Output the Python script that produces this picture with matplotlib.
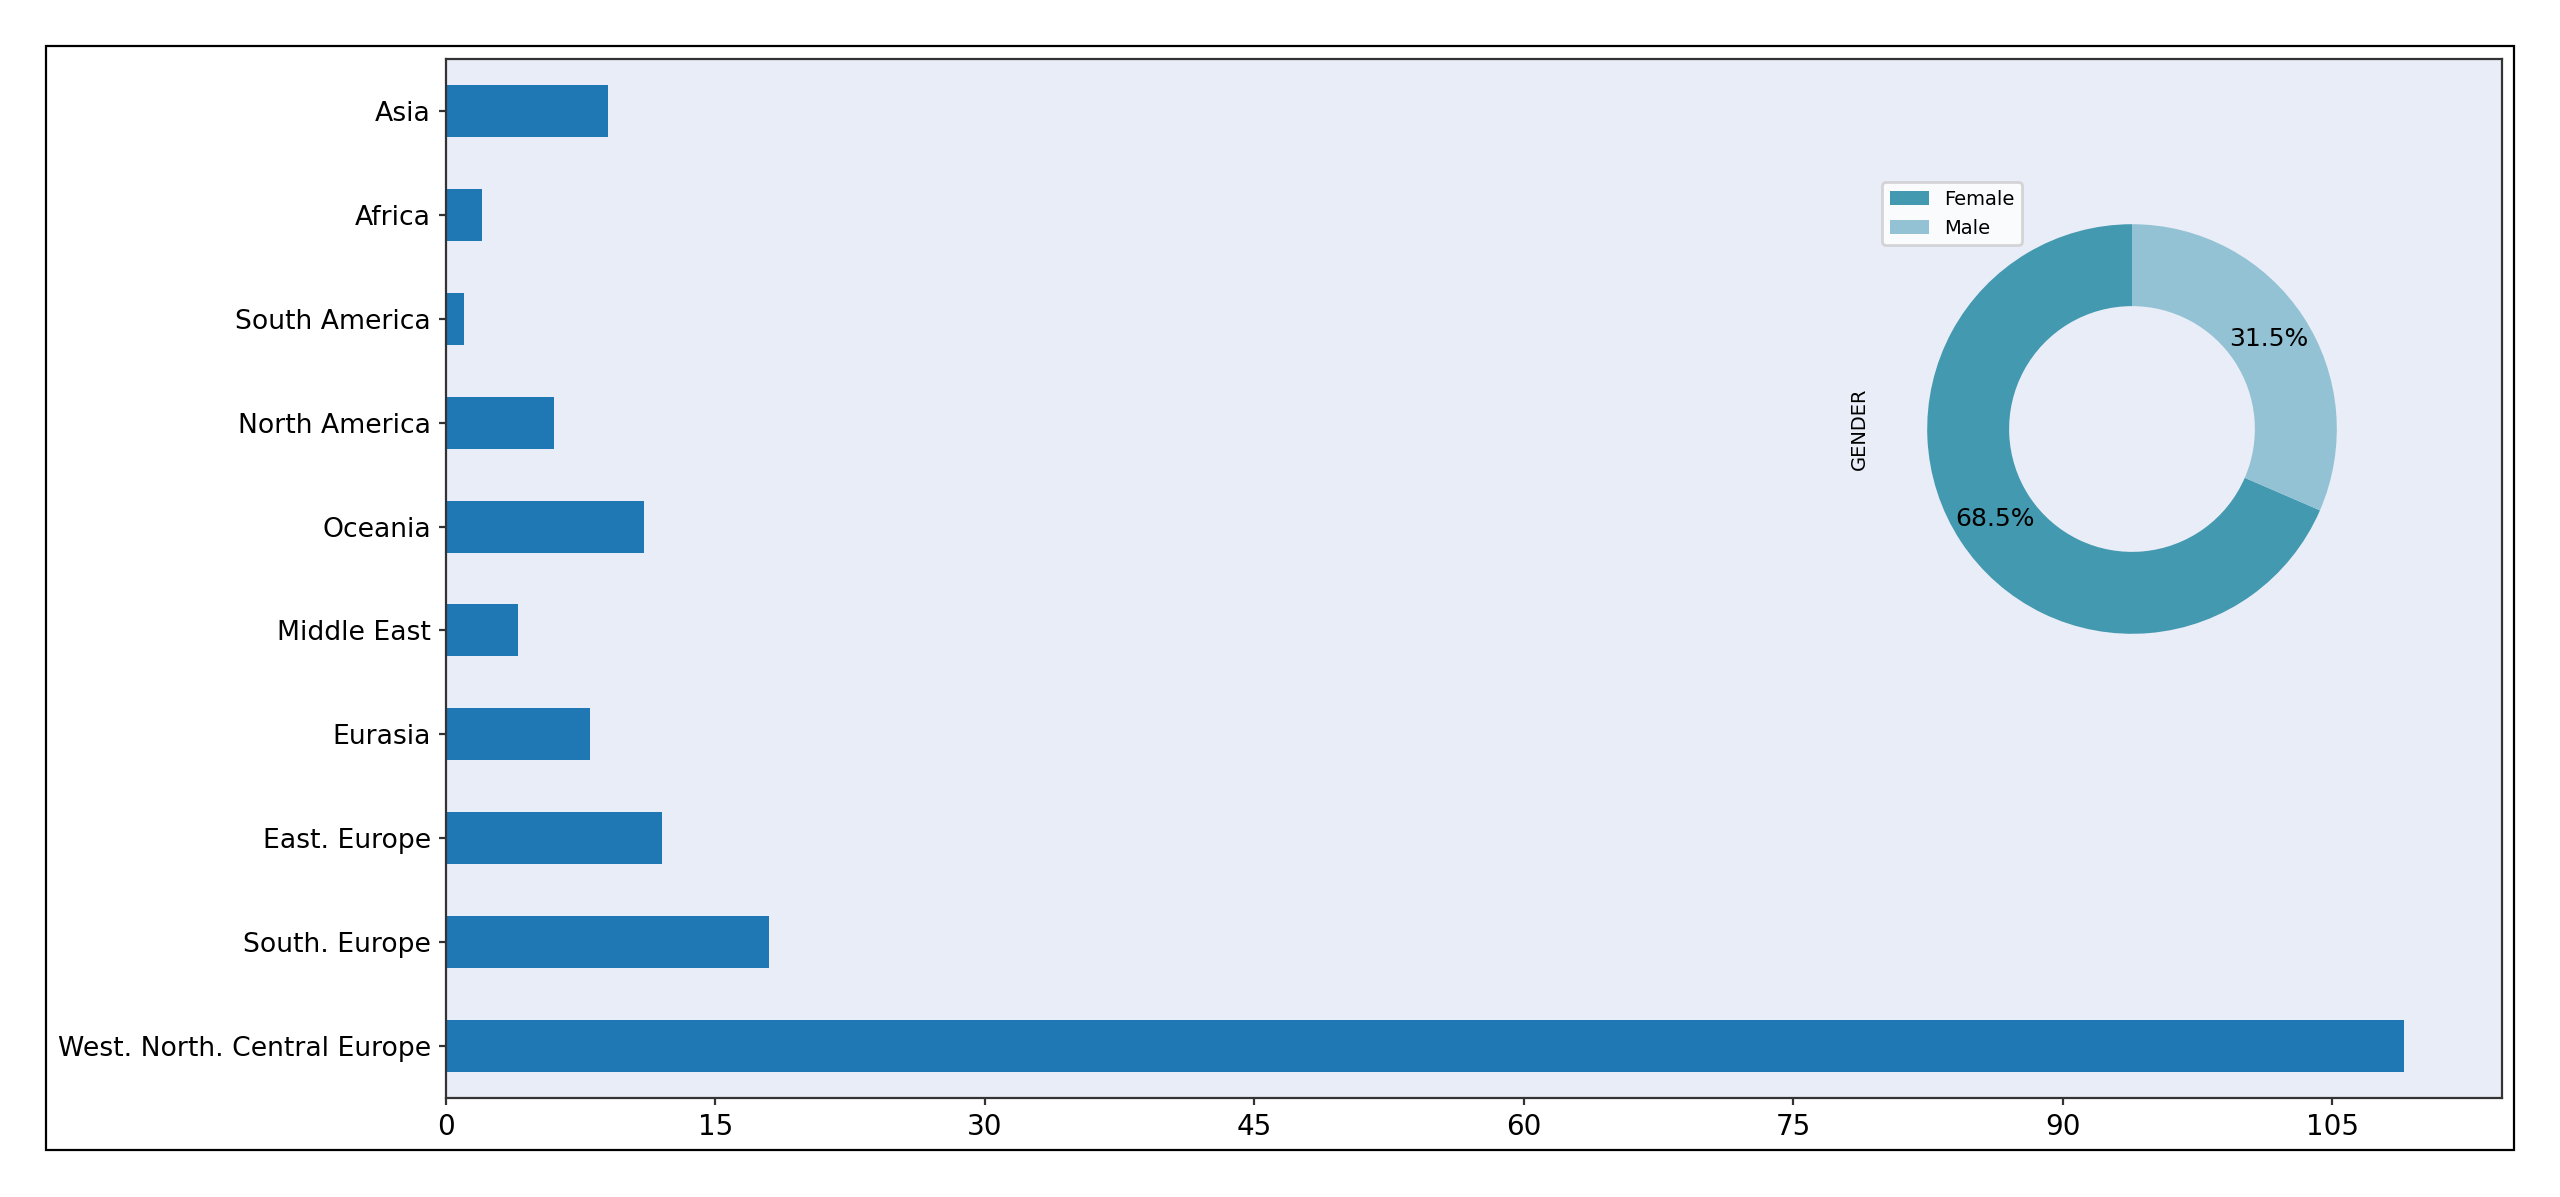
import matplotlib
matplotlib.use("Agg")
import matplotlib.pyplot as plt
from matplotlib.patches import Rectangle

regions = ["West. North. Central Europe", "South. Europe", "East. Europe", "Eurasia",
           "Middle East", "Oceania", "North America", "South America", "Africa", "Asia"]
counts = [109, 18, 12, 8, 4, 11, 6, 1, 2, 9]

gender_labels = ["Female", "Male"]
gender_share = [68.5, 31.5]

xticks = [0, 15, 30, 45, 60, 75, 90, 105]

W, H = 2560, 1197
dpi = 200
fig = plt.figure(figsize=(W / dpi, H / dpi), dpi=dpi)

# outer frame
fig.patches.append(Rectangle((46 / W, 47 / H), 2468 / W, 1104 / H, transform=fig.transFigure,
                             fill=False, edgecolor="black", linewidth=0.8, zorder=0))

ax = fig.add_axes([446 / W, 99 / H, 2056 / W, 1039 / H])
ax.set_facecolor("#e9edf7")
ax.barh(range(len(regions)), counts, height=0.5, color="#1f77b4")
ax.set_yticks(range(len(regions)))
ax.set_yticklabels(regions, fontsize=9.6)
ax.set_ylim(-0.5, len(regions) - 0.5)
ax.set_xlim(0, max(counts) * 1.05)
ax.set_xticks(xticks)
ax.set_xticklabels([str(t) for t in xticks], fontsize=10)
for s in ax.spines.values():
    s.set_color("#333333")
    s.set_linewidth(0.8)
ax.tick_params(colors="#333333", labelcolor="black", length=2.5, pad=2.9)

pax = fig.add_axes([1876 / W, (H - 685) / H, 512 / W, 512 / H])
pax.set_facecolor("none")
wedges, texts, autotexts = pax.pie(gender_share, colors=["#4399b0", "#92c2d4"], startangle=90,
                                   autopct="%1.1f%%", pctdistance=0.8,
                                   wedgeprops=dict(width=0.4), textprops=dict(fontsize=9))
pax.set_aspect("auto")
pax.set_xlim(-1.25, 1.25)
pax.set_ylim(-1.25, 1.25)
pax.set_ylabel("GENDER", fontsize=7, labelpad=2.5)
pax.legend(wedges, gender_labels, loc="upper left", fontsize=7,
           bbox_to_anchor=(1882 / W, (H - 182) / H), bbox_transform=fig.transFigure,
           borderaxespad=0)

fig.savefig("out.png", dpi=dpi)
